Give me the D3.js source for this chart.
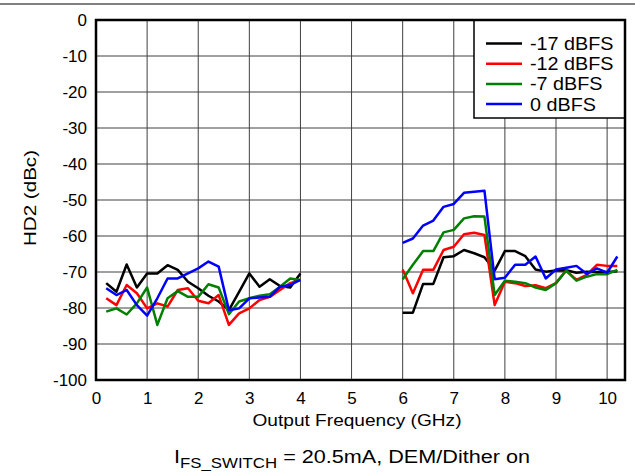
<!DOCTYPE html>
<html><head><meta charset="utf-8">
<script src="https://cdn.jsdelivr.net/npm/d3@7/dist/d3.min.js"></script>
<style>
html,body{margin:0;padding:0;background:#fff;}
svg{display:block;font-family:"Liberation Sans",Arial,sans-serif;}
</style></head>
<body><svg id="c" width="635" height="473"></svg>
<script>
// ---- data ----
const lowFreq = [0.2,0.4,0.6,0.8,1.0,1.2,1.4,1.6,1.8,2.0,2.2,2.4,2.6,2.8,3.0,3.2,3.4,3.6,3.8,4.0];
const highFreq = [6.0,6.2,6.4,6.6,6.8,7.0,7.2,7.4,7.6,7.8,8.0,8.2,8.4,8.6,8.8,9.0,9.2,9.4,9.6,9.8,10.0,10.2];
const seriesNames = ["-17 dBFS","-12 dBFS","-7 dBFS","0 dBFS"];
const seriesColors = ["#000000","#ff0000","#008000","#0000ff"];
const low_m17 = [-73.1,-75.5,-67.9,-74.3,-70.4,-70.4,-68.1,-69.4,-72.7,-74.5,-76.6,-78.2,-80.6,-75.5,-70.4,-74.1,-72.0,-73.9,-74.3,-70.4];
const low_m12 = [-77.3,-79.2,-73.6,-75.9,-80.1,-78.7,-79.6,-75.0,-74.5,-78.0,-78.7,-76.4,-84.7,-81.5,-80.1,-77.8,-76.9,-75.0,-73.1,-72.2];
const low_m7  = [-81.0,-80.1,-81.8,-78.7,-74.3,-84.7,-77.3,-75.3,-76.9,-76.9,-73.4,-74.3,-81.7,-78.2,-77.3,-76.6,-76.2,-74.1,-71.8,-72.2];
const low_0   = [-74.5,-76.4,-75.0,-79.2,-82.1,-77.3,-71.8,-71.8,-70.4,-69.0,-67.1,-68.5,-80.6,-80.1,-77.3,-77.1,-76.9,-74.1,-73.6,-72.2];
const high_m17 = [-81.3,-81.3,-73.3,-73.3,-65.9,-65.6,-63.9,-64.8,-65.9,-69.6,-64.2,-64.2,-65.6,-69.3,-69.9,-69.6,-69.5,-70.2,-69.9,-70.0,-70.0,-69.8];
const high_m12 = [-69.3,-75.9,-69.4,-69.4,-63.9,-63.0,-59.5,-59.1,-59.7,-79.2,-72.7,-73.1,-73.9,-73.7,-74.5,-73.1,-69.6,-72.2,-70.8,-68.0,-68.3,-68.3];
const high_m7  = [-72.0,-68.0,-64.2,-64.2,-59.0,-58.3,-55.1,-54.5,-54.6,-76.4,-72.4,-72.7,-73.1,-74.3,-75.0,-73.1,-69.6,-72.4,-71.3,-70.6,-70.6,-69.4];
const high_0   = [-61.9,-60.7,-57.1,-55.7,-51.9,-51.1,-48.0,-47.7,-47.4,-72.0,-71.6,-68.0,-68.0,-65.7,-71.8,-69.3,-68.8,-68.3,-70.5,-69.0,-70.2,-65.7];
const xTicks = [0,1,2,3,4,5,6,7,8,9,10];
const yTicks = [0,-10,-20,-30,-40,-50,-60,-70,-80,-90,-100];

const lowSets = [low_m17, low_m12, low_m7, low_0];
const highSets = [high_m17, high_m12, high_m7, high_0];

// ---- layout ----
const svg = d3.select("#c");
const x = d3.scaleLinear().domain([0,10.35]).range([96,625]);
const y = d3.scaleLinear().domain([-100,0]).range([380,20]);

// top separator
svg.append("line").attr("x1",0).attr("x2",635).attr("y1",4).attr("y2",4)
  .attr("stroke","#808080").attr("stroke-width",2);

// grid
const g = svg.append("g");
g.selectAll(".vg").data(xTicks.filter(d=>d>0)).join("line")
  .attr("x1",d=>x(d)).attr("x2",d=>x(d)).attr("y1",y(0)).attr("y2",y(-100))
  .attr("stroke","#404040").attr("stroke-width",1);
g.selectAll(".hg").data(yTicks.filter(d=>d>-100 && d<0)).join("line")
  .attr("x1",x(0)).attr("x2",x(10.35)).attr("y1",d=>y(d)).attr("y2",d=>y(d))
  .attr("stroke","#404040").attr("stroke-width",1);

// axes (labels via d3 axes)
const fmt = d => String(d);
const xAxis = d3.axisBottom(x).tickValues(xTicks).tickSize(0).tickPadding(12).tickFormat(fmt);
const yAxis = d3.axisLeft(y).tickValues(yTicks).tickSize(0).tickPadding(9).tickFormat(fmt);
const gx = svg.append("g").attr("transform",`translate(0,${y(-100)})`).call(xAxis);
const gy = svg.append("g").attr("transform",`translate(${x(0)},0)`).call(yAxis);
[gx,gy].forEach(a=>{a.select(".domain").remove();
  a.selectAll("text").attr("font-size",17).attr("fill","#000").attr("font-family","Liberation Sans, Arial, sans-serif");});

// lines
const line = d3.line().x(d=>x(d[0])).y(d=>y(d[1]));
const lg = svg.append("g");
seriesNames.forEach((n,i)=>{
  lg.append("path").datum(lowFreq.map((f,j)=>[f,lowSets[i][j]]))
    .attr("d",line).attr("fill","none").attr("stroke",seriesColors[i]).attr("stroke-width",2.5).attr("stroke-linejoin","round");
  lg.append("path").datum(highFreq.map((f,j)=>[f,highSets[i][j]]))
    .attr("d",line).attr("fill","none").attr("stroke",seriesColors[i]).attr("stroke-width",2.5).attr("stroke-linejoin","round");
});

// legend
const leg = svg.append("g");
leg.append("rect").attr("x",474).attr("y",y(0)).attr("width",625-474).attr("height",98)
  .attr("fill","#fff").attr("stroke","#000").attr("stroke-width",1.5);
seriesNames.forEach((n,i)=>{
  const yy = 43.5 + i*20.2;
  leg.append("line").attr("x1",486).attr("x2",522).attr("y1",yy).attr("y2",yy)
    .attr("stroke",seriesColors[i]).attr("stroke-width",2.5);
  const t = leg.append("text").attr("x",530).attr("y",yy+6.5).attr("font-size",17.5).text(n);
  t.attr("textLength", t.node().getComputedTextLength()*1.13).attr("lengthAdjust","spacingAndGlyphs");
});

// plot border
svg.append("rect").attr("x",x(0)).attr("y",y(0)).attr("width",x(10.35)-x(0)).attr("height",y(-100)-y(0))
  .attr("fill","none").attr("stroke","#000").attr("stroke-width",2.5);

// titles
svg.append("text").attr("x",357).attr("y",426).attr("text-anchor","middle").attr("font-size",17)
  .attr("textLength",209).attr("lengthAdjust","spacingAndGlyphs")
  .text("Output Frequency (GHz)");
svg.append("text").attr("transform","translate(36,198) rotate(-90)").attr("text-anchor","middle").attr("font-size",17)
  .attr("textLength",96).attr("lengthAdjust","spacingAndGlyphs")
  .text("HD2 (dBc)");
const st = svg.append("text").attr("x",352).attr("y",463).attr("text-anchor","middle").attr("font-size",18)
  .attr("textLength",356).attr("lengthAdjust","spacingAndGlyphs");
st.append("tspan").text("I");
st.append("tspan").attr("font-size",14).attr("dy",5).text("FS_SWITCH");
st.append("tspan").attr("dy",-5).text(" = 20.5mA, DEM/Dither on");
</script></body></html>
